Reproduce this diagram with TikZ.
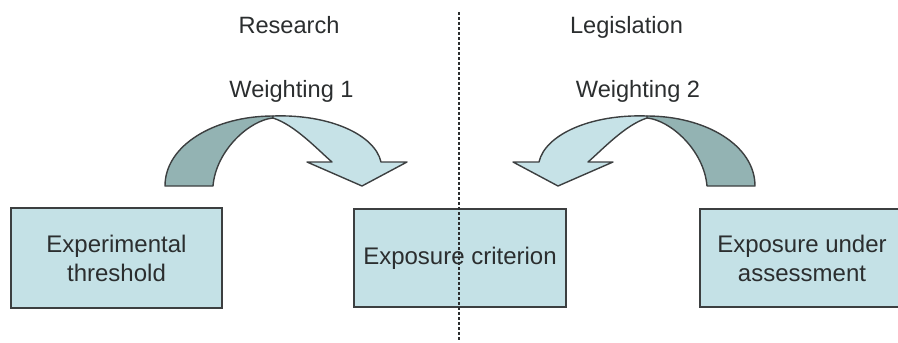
\documentclass[tikz,border=0pt]{standalone}
\usepackage{fontspec}
\setmainfont{Liberation Sans}
\definecolor{boxfill}{HTML}{C4E1E6}
\definecolor{arrowlight}{HTML}{C6E2E7}
\definecolor{arrowdark}{HTML}{93B3B3}
\definecolor{edge}{HTML}{3C3F40}
\definecolor{ink}{HTML}{2B2E2F}
\tikzset{
  stagebox/.style={draw=edge, line width=1.8pt, fill=boxfill, text=ink,
    align=center, inner sep=0pt,
    font=\fontsize{24}{29}\selectfont},
  headlabel/.style={text=ink, inner sep=0pt, anchor=base,
    font=\fontsize{23.6}{28}\selectfont},
  bendlight/.style={draw=edge, line width=1.4pt, fill=arrowlight, line join=round},
  benddark/.style={draw=edge, line width=1.4pt, fill=arrowdark, line join=round},
  divider/.style={draw=ink, line width=1.3pt, dash pattern=on 3pt off 2pt}
}
\begin{document}
\begin{tikzpicture}[x=1pt, y=-1pt]
  \useasboundingbox (0,0) rectangle (898,343);
  \clip (0,0) rectangle (898,343);

  % column headings
  \node[headlabel] (research) at (289,33) {Research};
  \node[headlabel] (legis) at (626.5,33) {Legislation};
  \node[headlabel] (weight1) at (291.5,97) {Weighting 1};
  \node[headlabel] (weight2) at (638,97) {Weighting 2};

  % the three stages
  \node[stagebox, minimum width=211pt, minimum height=100pt] (thresh) at (116.5,258)
    {Experimental\\threshold};
  \node[stagebox, minimum width=212pt, minimum height=98pt] (crit) at (460,258)
    {Exposure criterion};
  \node[stagebox, minimum width=204pt, minimum height=98pt] (assess) at (802,258)
    {Exposure under\\assessment};

  % curved arrow from the threshold to the criterion
  \begin{scope}
    \path[benddark] (165,186) .. controls (165,145) and (215,116) .. (273,116)
      -- (273,118) .. controls (250,120) and (216,150) .. (213,186) -- cycle;
    \path[bendlight] (273,116) .. controls (330,114) and (375,135) .. (381,162)
      -- (407,162) -- (362,186) -- (307,162) -- (332,162)
      .. controls (318,150) and (295,125) .. (273,118) -- cycle;
  \end{scope}

  % curved arrow from the assessed exposure to the criterion
  \begin{scope}[shift={(920,0)}, xscale=-1]
    \path[benddark] (165,186) .. controls (165,145) and (215,116) .. (273,116)
      -- (273,118) .. controls (250,120) and (216,150) .. (213,186) -- cycle;
    \path[bendlight] (273,116) .. controls (330,114) and (375,135) .. (381,162)
      -- (407,162) -- (362,186) -- (307,162) -- (332,162)
      .. controls (318,150) and (295,125) .. (273,118) -- cycle;
  \end{scope}

  % dividing line between research and legislation
  \coordinate (divtop) at (459,12);
  \coordinate (divbot) at (459,341);
  \draw[divider] (divtop) -- (divbot);
\end{tikzpicture}
\end{document}
